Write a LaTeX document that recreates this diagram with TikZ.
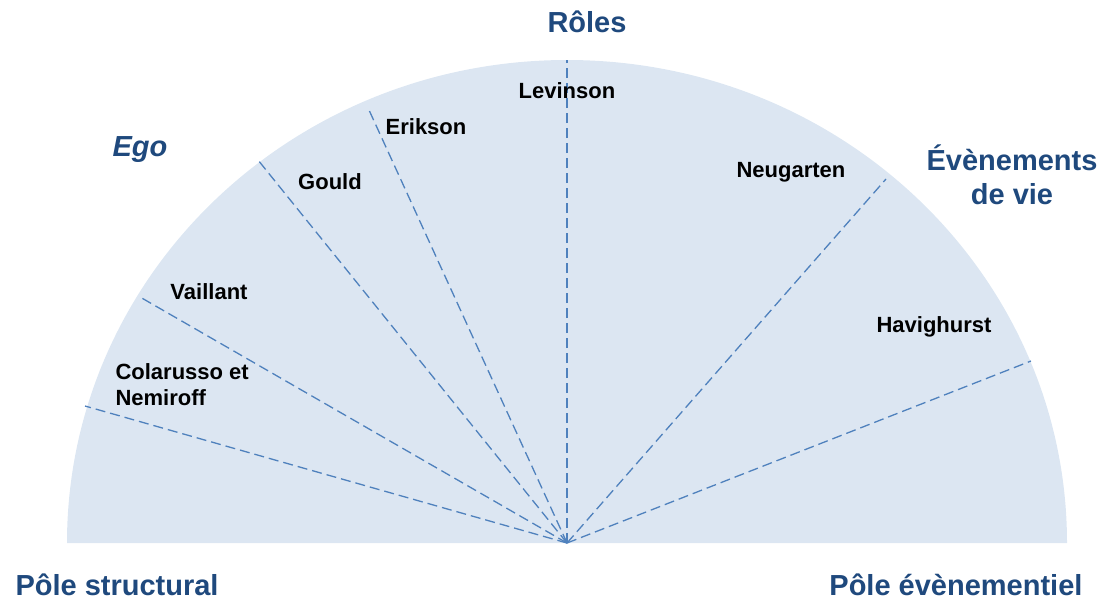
\documentclass[tikz,border=0pt]{standalone}
\usepackage{fontspec}
\setmainfont{Liberation Sans}
\definecolor{darkblue}{RGB}{31, 73, 125}
\definecolor{lineblue}{RGB}{79, 129, 189}
\definecolor{paleblue}{RGB}{220, 230, 242}

\begin{document}
\begin{tikzpicture}[x=1pt, y=-1pt,
		spoke/.style={lineblue, line width=1.3, dash pattern=on 10pt off 5pt},
		author/.style={font=\fontsize{22}{26}\selectfont\bfseries, black},
		pole/.style={font=\fontsize{29}{34}\selectfont\bfseries, darkblue}]
			
			\useasboundingbox (0, 0) rectangle (1104, 603);
			
			% HALF DISC
			\fill[paleblue] (67, 543) arc[start angle=180, end angle=360, x radius=500, y radius=483] -- cycle;
			
			% SPOKES
			\coordinate (o) at (567, 543);
			\coordinate (s1) at (85, 406);
			\coordinate (s2) at (140, 297);
			\coordinate (s3) at (258, 160);
			\coordinate (s4) at (369, 110);
			\coordinate (s5) at (567, 60);
			\coordinate (s6) at (886, 179);
			\coordinate (s7) at (1031, 361);
			\foreach \s in {s1, s2, s3, s4, s5, s6, s7}
				\draw[spoke] (o) -- (\s);
			
			% POLES
			\node[pole] (roles) at (587, 22) {Rôles};
			\node[pole, font=\fontsize{29}{34}\selectfont\bfseries\itshape] (ego) at (140, 150) {Ego};
			\node[pole, align=center] (events) at (1012, 175) {Évènements\\de vie};
			\node[pole, anchor=west] (structural) at (12, 585) {Pôle structural};
			\node[pole, anchor=east] (eventual) at (1086, 585) {Pôle évènementiel};
			
			% AUTHORS
			\node[author] (levinson) at (567, 91) {Levinson};
			\node[author] (erikson) at (426, 127) {Erikson};
			\node[author] (gould) at (330, 182) {Gould};
			\node[author] (neugarten) at (791, 172) {Neugarten};
			\node[author] (vaillant) at (209, 292) {Vaillant};
			\node[author, align=left, anchor=west] (colarusso) at (112, 385) {Colarusso et\\Nemiroff};
			\node[author] (havighurst) at (934, 327) {Havighurst};
			
		\end{tikzpicture}
\end{document}
